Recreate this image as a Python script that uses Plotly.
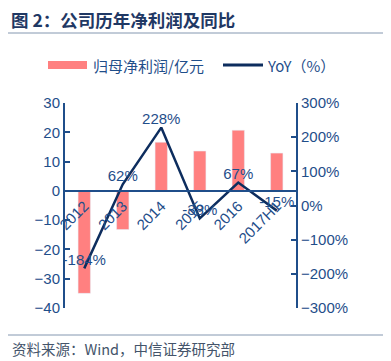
import plotly.graph_objects as go

categories = ["2012", "2013", "2014", "2015", "2016", "2017H1"]
net_profit = [-35.0, -13.2, 16.6, 13.6, 20.7, 12.9]
yoy = [-184, 62, 228, -38, 67, -15]
yoy_labels = ["-184%", "62%", "228%", "-38%", "67%", "-15%"]

# page has an 8px body margin: figure pixel = page pixel - 8
OFF = 8
W, H = 391 - OFF, 361 - OFF
PL, PR, PT, PB = 65, 296, 103, 308   # plot area in page pixels
L, T = PL - OFF, PT - OFF
R, B = W - (PR - OFF), H - (PB - OFF)
pw, ph = PR - PL, PB - PT

BAR_C = "#FF8080"
LINE_C = "#0D2D5E"
AX_C = "#1F4E8A"
TXT_C = "#1F4E8A"
FONT = "Liberation Sans, Arial, Noto Sans CJK SC, sans-serif"
CJK = "Noto Sans CJK SC, Liberation Sans, sans-serif"

y1_range = [-40, 30]
y2_range = [-300, 300]

def py(pix):
    return (PB - pix) / ph

def px(pix):
    return (pix - PL) / pw

fig = go.Figure()
fig.add_trace(go.Bar(x=categories, y=net_profit, marker_color=BAR_C, width=0.32,
                     name="归母净利润/亿元", showlegend=False))
fig.add_trace(go.Scatter(x=categories, y=yoy, yaxis="y2", mode="lines+text",
                         line=dict(color=LINE_C, width=2.5), name="YoY（%）",
                         text=yoy_labels, textposition="top center",
                         textfont=dict(family=FONT, size=15, color=TXT_C),
                         showlegend=False))

zero_pos = (0 - y1_range[0]) / (y1_range[1] - y1_range[0])

fig.update_layout(
    width=W, height=H, margin=dict(l=L, r=R, t=T, b=B),
    paper_bgcolor="white", plot_bgcolor="white",
    font=dict(family=FONT, size=15, color=TXT_C),
    xaxis=dict(type="category", categoryorder="array", categoryarray=categories,
               range=[-0.5, len(categories) - 0.5],
               anchor="free", position=zero_pos, showline=True,
               linecolor=AX_C, linewidth=1.5, ticks="", tickangle=-45,
               showgrid=False, zeroline=False,
               tickfont=dict(family=FONT, size=15, color=TXT_C)),
    yaxis=dict(range=y1_range, dtick=10, showline=True, linecolor=AX_C, linewidth=2,
               ticks="inside", ticklen=5, tickwidth=2, tickcolor=AX_C,
               showgrid=False, zeroline=False,
               tickfont=dict(family=FONT, size=15, color=TXT_C)),
    yaxis2=dict(range=y2_range, dtick=100, overlaying="y", side="right",
                showline=True, linecolor=AX_C, linewidth=2, ticks="inside",
                ticklen=5, tickwidth=2, tickcolor=AX_C, ticksuffix="%",
                showgrid=False, zeroline=False,
                tickfont=dict(family=FONT, size=15, color=TXT_C)),
)

# title, footer
fig.add_annotation(xref="paper", yref="paper", x=px(10), y=py(19.5), xanchor="left",
                   yanchor="middle", text="<b>图 2：公司历年净利润及同比</b>", showarrow=False,
                   borderpad=0,
                   font=dict(family=CJK, size=17.5, color="#1F3864"))
fig.add_shape(type="line", xref="paper", yref="paper", x0=px(6), x1=px(385),
              y0=py(33), y1=py(33), line=dict(color="#8497B0", width=1))
fig.add_shape(type="line", xref="paper", yref="paper", x0=px(6), x1=px(385),
              y0=py(335), y1=py(335), line=dict(color="#8497B0", width=1))
fig.add_annotation(xref="paper", yref="paper", x=px(10), y=py(348), xanchor="left",
                   yanchor="middle", text="资料来源：Wind，中信证券研究部", showarrow=False,
                   font=dict(family=CJK, size=14.5, color="#44546A"))

# legend
fig.add_shape(type="rect", xref="paper", yref="paper", x0=px(48), x1=px(87),
              y0=py(69), y1=py(61), fillcolor=BAR_C, line=dict(width=0))
fig.add_annotation(xref="paper", yref="paper", x=px(91), y=py(65), xanchor="left",
                   yanchor="middle", text="归母净利润/亿元", showarrow=False,
                   font=dict(family=CJK, size=15, color=TXT_C))
fig.add_shape(type="line", xref="paper", yref="paper", x0=px(223), x1=px(263),
              y0=py(65), y1=py(65), line=dict(color=LINE_C, width=3))
fig.add_annotation(xref="paper", yref="paper", x=px(265), y=py(65), xanchor="left",
                   yanchor="middle", text="YoY（%）", showarrow=False,
                   font=dict(family=CJK, size=15, color=TXT_C))

fig.write_html("out.html")
